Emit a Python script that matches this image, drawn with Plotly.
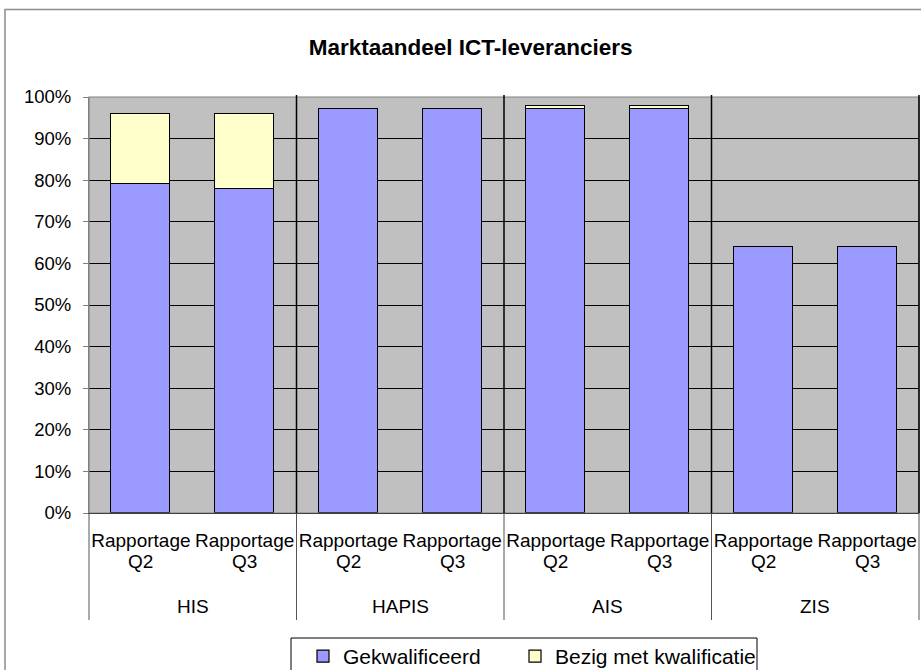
import plotly.graph_objects as go

groups = ["HIS", "HIS", "HAPIS", "HAPIS", "AIS", "AIS", "ZIS", "ZIS"]
period_word = ["Rapportage"] * 8
quarters = ["Q2", "Q3"] * 4
gekwalificeerd = [0.79, 0.78, 0.97, 0.97, 0.97, 0.97, 0.64, 0.64]
bezig = [0.17, 0.18, None, None, 0.008, 0.008, None, None]
group_names = ["HIS", "HAPIS", "AIS", "ZIS"]
y_ticks = [i / 10 for i in range(11)]

FONT = "Liberation Sans, Arial, sans-serif"
W, H = 921, 670
L, R, T, B = 89, 2, 97, 157
pw, ph = W - L - R, H - T - B

xs = list(range(len(groups)))
xmin, xmax = -0.5, len(groups) - 0.5


def px_x(p):  # pixel -> paper x
    return (p - L) / pw


def px_y(p):  # pixel -> paper y
    return (H - B - p) / ph


def data_to_paper_x(v):
    return (v - xmin) / (xmax - xmin)


fig = go.Figure()
fig.add_trace(go.Bar(
    x=xs, y=gekwalificeerd, name="Gekwalificeerd", legend="legend",
    marker=dict(color="#9999FF", line=dict(color="#000000", width=1.2)),
    width=0.57,
))
fig.add_trace(go.Bar(
    x=xs, y=bezig, name="Bezig met kwalificatie", legend="legend2",
    marker=dict(color="#FFFFCC", line=dict(color="#000000", width=1.2)),
    width=0.57,
))

shapes = []
# outer chart border
shapes.append(dict(type="rect", xref="paper", yref="paper",
                   x0=px_x(5), x1=px_x(945), y0=px_y(9.5), y1=px_y(700),
                   line=dict(color="#8c8c8c", width=1.5), layer="below"))
# plot area border
shapes.append(dict(type="rect", xref="paper", yref="paper", x0=0, x1=1, y0=0, y1=1,
                   line=dict(color="#808080", width=1.2), layer="above"))
# group boundaries
bounds = []
for i in range(len(groups) + 1):
    if i == 0 or i == len(groups) or groups[i] != groups[i - 1]:
        bounds.append(i - 0.5)
for b in bounds:
    xp = data_to_paper_x(b)
    shapes.append(dict(type="line", xref="paper", yref="paper", x0=xp, x1=xp,
                       y0=0, y1=px_y(620), line=dict(color="#555555", width=1)))
    if xp > 0:
        shapes.append(dict(type="line", xref="paper", yref="paper", x0=xp, x1=xp,
                           y0=0, y1=px_y(95), line=dict(color="#000000", width=1.5)))
# legend box
shapes.append(dict(type="rect", xref="paper", yref="paper",
                   x0=px_x(291), x1=px_x(757), y0=px_y(638), y1=px_y(700),
                   line=dict(color="#000000", width=1), fillcolor="white", layer="below"))

annotations = []
for x, q in zip(xs, quarters):
    annotations.append(dict(x=data_to_paper_x(x), xref="paper", y=px_y(561.5), yref="paper",
                            text=q, showarrow=False, xanchor="center", yanchor="middle",
                            font=dict(family=FONT, size=19, color="#000000")))
for g in group_names:
    idx = [i for i, gg in enumerate(groups) if gg == g]
    cx = sum(idx) / len(idx)
    annotations.append(dict(x=data_to_paper_x(cx), xref="paper", y=px_y(606), yref="paper",
                            text=g, showarrow=False, xanchor="center", yanchor="middle",
                            font=dict(family=FONT, size=19, color="#000000")))

legend_common = dict(orientation="h", yanchor="top", y=px_y(636), xanchor="left",
                     bgcolor="rgba(0,0,0,0)", borderwidth=0,
                     font=dict(family=FONT, size=21, color="#000000"))

fig.update_layout(
    width=W, height=H, autosize=False,
    margin=dict(l=L, r=R, t=T, b=B, pad=0, autoexpand=False),
    paper_bgcolor="white", plot_bgcolor="#C0C0C0",
    barmode="stack", bargap=0,
    title=dict(text="<b>Marktaandeel ICT-leveranciers</b>", x=0.511, xanchor="center",
               y=1 - 47 / H, yanchor="middle",
               font=dict(family=FONT, size=22.5, color="#000000")),
    xaxis=dict(range=[xmin, xmax], tickmode="array", tickvals=xs, ticktext=period_word,
               showgrid=False, zeroline=False, showline=True, linecolor="#000000", linewidth=1,
               ticks="", ticklabelstandoff=10, automargin=False,
               tickfont=dict(family=FONT, size=19, color="#000000")),
    yaxis=dict(range=[0, 1], tickmode="array", tickvals=y_ticks, tickformat=".0%",
               showgrid=True, gridcolor="#000000", gridwidth=1, zeroline=False,
               showline=True, linecolor="#808080", linewidth=1, automargin=False,
               ticks="outside", ticklen=5, tickcolor="#808080", ticklabelstandoff=8,
               tickfont=dict(family=FONT, size=18.5, color="#000000")),
    legend=dict(x=px_x(303), **legend_common),
    legend2=dict(x=px_x(515), **legend_common),
    shapes=shapes,
    annotations=annotations,
    showlegend=True,
)

fig.write_html("out.html",
               config={"displayModeBar": False},
               post_script="document.body.style.margin='0';document.body.style.overflow='hidden';")
